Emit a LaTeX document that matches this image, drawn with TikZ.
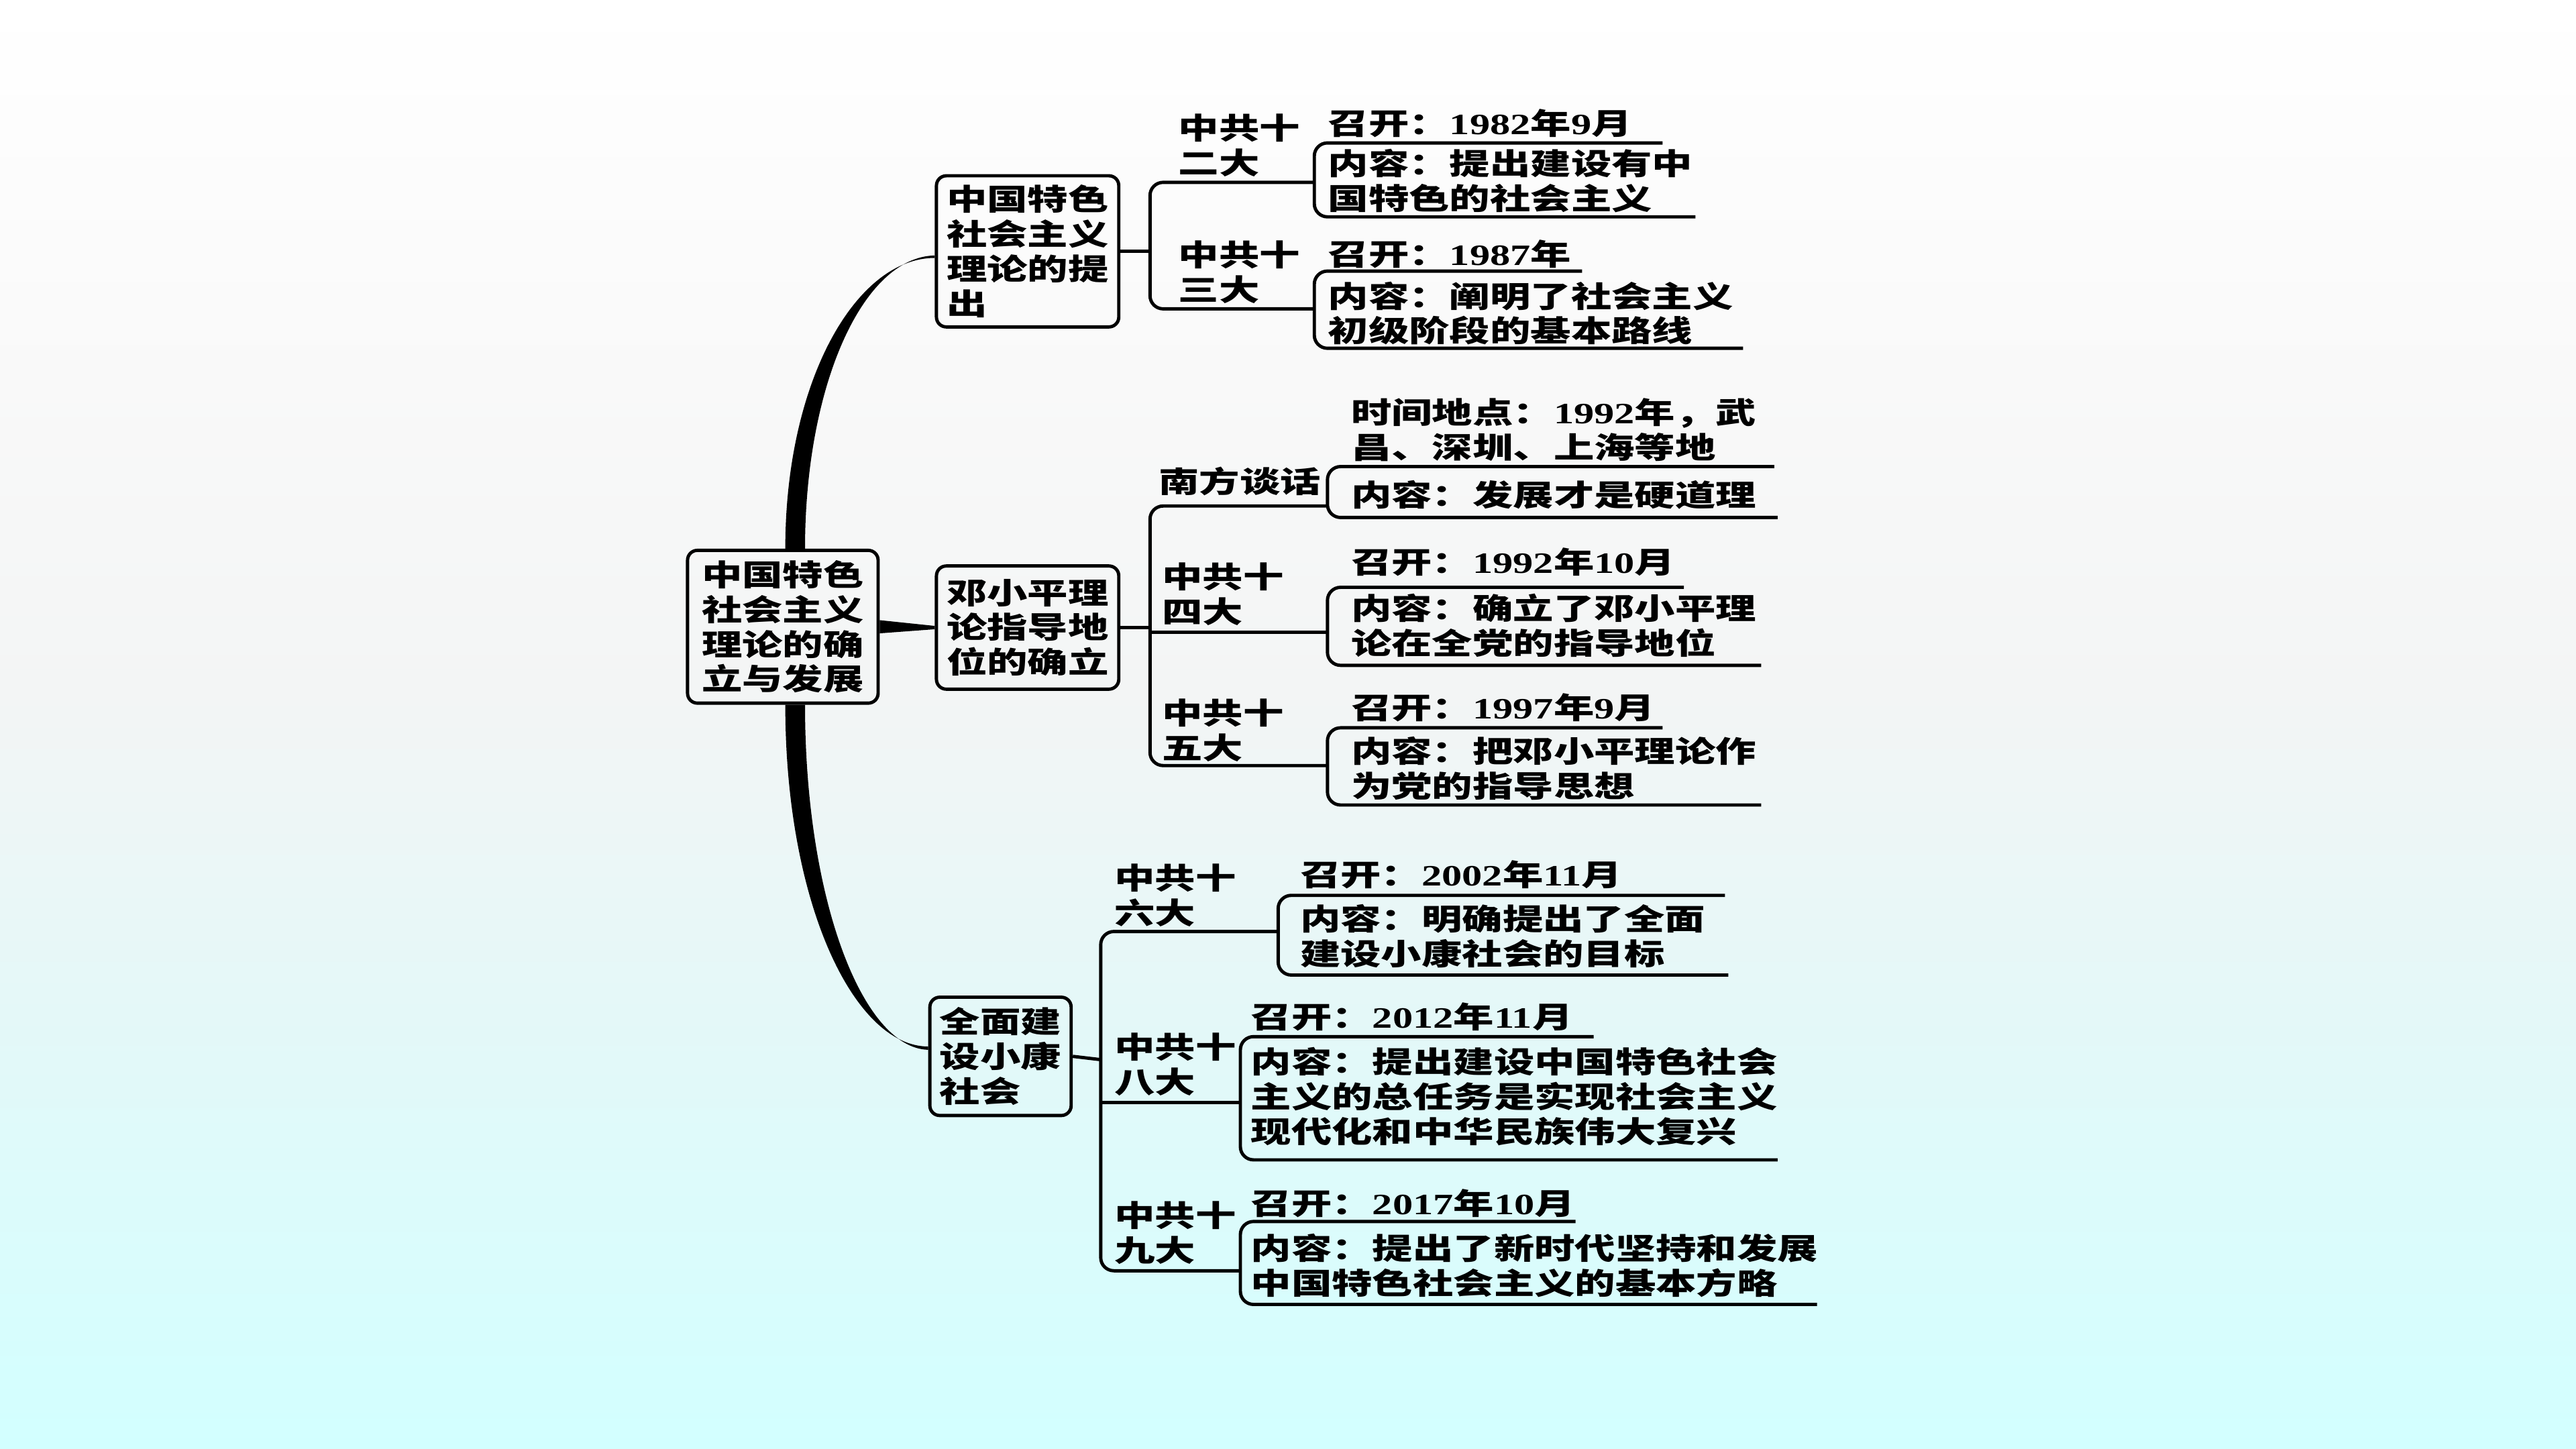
\documentclass[tikz,border=0pt]{standalone}
\usepackage{fontspec}
\setmainfont{Noto Sans CJK SC}[FakeStretch=1.37]
\newfontfamily\numfont{Liberation Serif}[FakeStretch=1.37]
\newcommand{\numtxt}[1]{{\numfont #1}}
\usepackage{tikz}

\definecolor{bgtop}{RGB}{255,255,255}
\definecolor{bglight}{RGB}{249,249,249}
\definecolor{bggrey}{RGB}{243,245,245}
\definecolor{bgmid}{RGB}{228,248,248}
\definecolor{bgbot}{RGB}{210,255,255}
\pgfdeclareverticalshading{bgshade}{100bp}{color(0bp)=(bgbot); color(25bp)=(bgbot); color(40bp)=(bgmid); color(51bp)=(bggrey); color(62bp)=(bglight); color(75bp)=(bgtop); color(100bp)=(bgtop)}

\tikzset{
  mainbox/.style={draw, line width=1pt, rounded corners=3pt, inner sep=0pt, align=left,
    font=\bfseries\fontsize{9}{10.6}\selectfont},
  txt/.style={anchor=north west, inner sep=0pt, align=left,
    font=\bfseries\fontsize{9}{10.6}\selectfont},
  link/.style={line width=1pt, rounded corners=4pt},
  bline/.style={line width=1pt, rounded corners=4pt},
}

\begin{document}
\begin{tikzpicture}[x=0.5pt,y=0.5pt,yscale=-1,xscale=1]
%Shape: Background
\shade[shading=bgshade] (0,0) rectangle (1568,882);
\useasboundingbox (0,0) rectangle (1568,882);

%Shape: Rounded Rectangle
\node [mainbox, minimum width=58pt, minimum height=46.5pt] (root) at (476.5,381.5) {中国特色\\社会主义\\理论的确\\立与发展};
%Shape: Rounded Rectangle
\node [mainbox, minimum width=55.5pt, minimum height=46pt] (b1) at (625.5,153) {中国特色\\社会主义\\理论的提\\出};
%Shape: Rounded Rectangle
\node [mainbox, minimum width=55.5pt, minimum height=37.5pt] (b2) at (625.5,382) {邓小平理\\论指导地\\位的确立};
%Shape: Rounded Rectangle
\node [mainbox, minimum width=43pt, minimum height=36pt] (b3) at (609,643) {全面建\\设小康\\社会};

%Curve Lines
\fill ([xshift=0.75pt]root.north) .. controls +(0,-102) and +(-48,0) .. ([yshift=2pt]b1.west) -- ([yshift=1.25pt]b1.west) .. controls +(-44,1) and +(0,-99) .. ([xshift=6.75pt]root.north) -- cycle;
%Curve Lines
\fill ([xshift=0.75pt]root.south) .. controls +(0,121) and +(-45,0) .. ([yshift=-3pt]b3.west) -- ([yshift=-2pt]b3.west) .. controls +(-40,-1) and +(0,118) .. ([xshift=6.75pt]root.south) -- cycle;
%Straight Lines
\fill ([yshift=2pt]root.east) -- ([yshift=0.5pt]b2.west) -- ([yshift=-0.5pt]b2.west) -- ([yshift=-2pt]root.east) -- cycle;

%Straight Lines
\coordinate (j1) at (700,153);
\coordinate (k12) at (800,111);
\coordinate (k13) at (800,188);
\draw [link] (b1.east) -- (j1);
\draw [link] (k12) -| (j1) |- (k13);
\draw [bline] (1012,87) -- (800,87) -- (800,132) -- (1032,132);
\draw [bline] (963,165) -- (800,165) -- (800,212) -- (1061,212);

%Straight Lines
\coordinate (j2) at (700,382);
\coordinate (k21) at (808,308);
\coordinate (k22) at (808,385);
\coordinate (k23) at (808,466);
\draw [link] (b2.east) -- (j2);
\draw [link] (k21) -| (j2) |- (k23);
\draw [link] (j2 |- k22) -- (k22);
\draw [bline] (1080,284) -- (808,284) -- (808,315) -- (1082,315);
\draw [bline] (1025,357.5) -- (808,357.5) -- (808,405) -- (1072,405);
\draw [bline] (1012,443) -- (808,443) -- (808,490) -- (1072,490);

%Straight Lines
\coordinate (j3) at (670,645);
\coordinate (k31) at (778,567);
\coordinate (k32) at (755,671);
\coordinate (k33) at (755,773.5);
\draw [link] (b3.east) -- (j3);
\draw [link] (k31) -| (j3) |- (k33);
\draw [link] (j3 |- k32) -- (k32);
\draw [bline] (1050,545) -- (778,545) -- (778,593.5) -- (1052,593.5);
\draw [bline] (970,631) -- (755,631) -- (755,706) -- (1082,706);
\draw [bline] (959,743.5) -- (755,743.5) -- (755,794) -- (1106,794);

% Text Node
\draw (717,69) node [txt] (lab12) {中共十\\二大};
% Text Node
\draw (808,66) node [txt] (top12) {召开：\numtxt{1982}年\numtxt{9}月};
% Text Node
\draw (808,90.5) node [txt] (con12) {内容：提出建设有中\\国特色的社会主义};
% Text Node
\draw (717,146) node [txt] (lab13) {中共十\\三大};
% Text Node
\draw (808,145.5) node [txt] (top13) {召开：\numtxt{1987}年};
% Text Node
\draw (808,171) node [txt] (con13) {内容：阐明了社会主义\\初级阶段的基本路线};

% Text Node
\draw (705,284) node [txt] (lab21) {南方谈话};
% Text Node
\draw (822,242) node [txt] (top21) {时间地点：\numtxt{1992}年，武\\昌、深圳、上海等地};
% Text Node
\draw (822,292) node [txt] (con21) {内容：发展才是硬道理};
% Text Node
\draw (707,342) node [txt] (lab22) {中共十\\四大};
% Text Node
\draw (822,333) node [txt] (top22) {召开：\numtxt{1992}年\numtxt{10}月};
% Text Node
\draw (822,361) node [txt] (con22) {内容：确立了邓小平理\\论在全党的指导地位};
% Text Node
\draw (707,425) node [txt] (lab23) {中共十\\五大};
% Text Node
\draw (822,421.5) node [txt] (top23) {召开：\numtxt{1997}年\numtxt{9}月};
% Text Node
\draw (822,448) node [txt] (con23) {内容：把邓小平理论作\\为党的指导思想};

% Text Node
\draw (678,525.5) node [txt] (lab31) {中共十\\六大};
% Text Node
\draw (791,523.5) node [txt] (top31) {召开：\numtxt{2002}年\numtxt{11}月};
% Text Node
\draw (791,550) node [txt] (con31) {内容：明确提出了全面\\建设小康社会的目标};
% Text Node
\draw (678,628.5) node [txt] (lab32) {中共十\\八大};
% Text Node
\draw (761,610) node [txt] (top32) {召开：\numtxt{2012}年\numtxt{11}月};
% Text Node
\draw (761,637) node [txt] (con32) {内容：提出建设中国特色社会\\主义的总任务是实现社会主义\\现代化和中华民族伟大复兴};
% Text Node
\draw (678,731) node [txt] (lab33) {中共十\\九大};
% Text Node
\draw (761,723.5) node [txt] (top33) {召开：\numtxt{2017}年\numtxt{10}月};
% Text Node
\draw (761,750.5) node [txt] (con33) {内容：提出了新时代坚持和发展\\中国特色社会主义的基本方略};

\end{tikzpicture}
\end{document}
